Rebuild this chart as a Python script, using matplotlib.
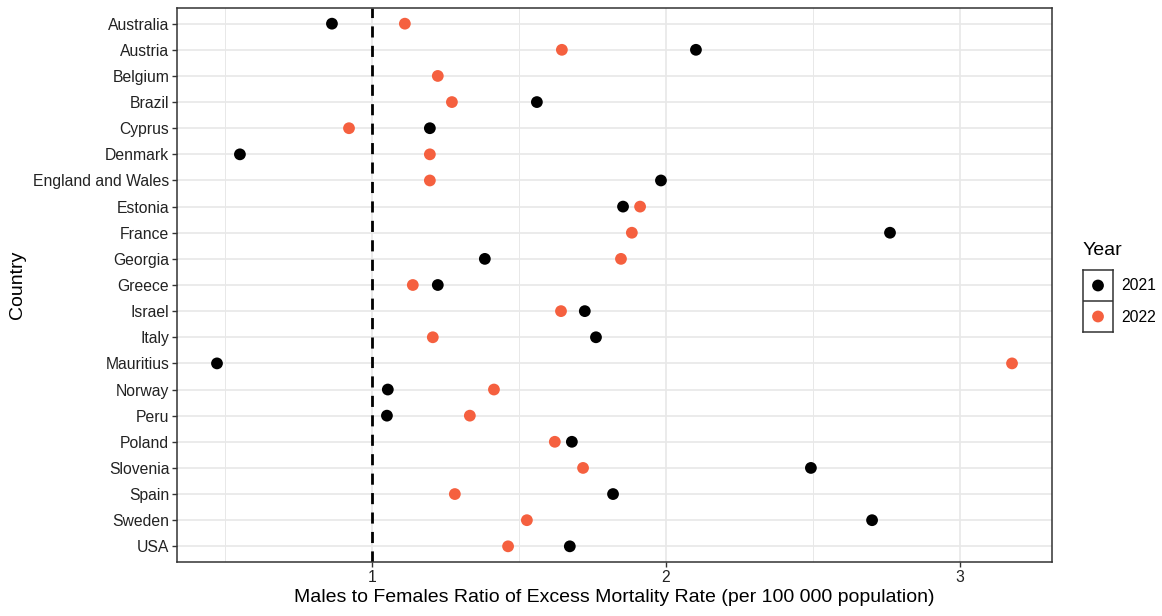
import matplotlib
matplotlib.use("Agg")
import matplotlib.pyplot as plt
import numpy as np

countries = ["Australia", "Austria", "Belgium", "Brazil", "Cyprus", "Denmark",
             "England and Wales", "Estonia", "France", "Georgia", "Greece",
             "Israel", "Italy", "Mauritius", "Norway", "Peru", "Poland",
             "Slovenia", "Spain", "Sweden", "USA"]
ratio_2021 = [0.864, 2.102, np.nan, 1.561, 1.197, 0.551, 1.983, 1.854, 2.762,
              1.384, 1.224, 1.724, 1.762, 0.473, 1.054, 1.051, 1.680, 2.493,
              1.820, 2.701, 1.673]
ratio_2022 = [1.112, 1.646, 1.224, 1.272, 0.922, 1.197, 1.197, 1.912, 1.884,
              1.847, 1.139, 1.643, 1.207, 3.177, 1.415, 1.333, 1.622, 1.718,
              1.282, 1.527, 1.463]
years = ["2021", "2022"]
colors = ["#000000", "#F5603F"]

plt.rcParams['font.family'] = ['Liberation Sans', 'DejaVu Sans']
W, H = 1162, 616
fig = plt.figure(figsize=(W / 100, H / 100), dpi=100)
ax = fig.add_axes([177 / W, 1 - 562 / H, (1052 - 177) / W, (562 - 8) / H])

n = len(countries)
ypos = np.arange(n)[::-1]
ax.set_xlim(0.337, 3.313)
ax.set_ylim(-0.6, n - 1 + 0.6)

ax.set_xticks([1, 2, 3])
ax.set_xticks([0.5, 1.5, 2.5], minor=True)
ax.set_yticks(ypos)
ax.set_yticklabels(countries)
ax.grid(which='major', color='#E8E8E8', lw=1.2, zorder=0)
ax.grid(which='minor', axis='x', color='#E8E8E8', lw=0.7, zorder=0)
ax.tick_params(which='minor', length=0)
ax.tick_params(which='major', length=3.5, width=1, color='#333333',
               labelsize=11.3, labelcolor='#222222', pad=2)
for s in ax.spines.values():
    s.set_color('#333333')
    s.set_linewidth(1.1)
ax.set_axisbelow(True)

ax.axvline(1, color='black', lw=2, ls=(0, (4, 3)), zorder=2)
for vals, c in zip([ratio_2021, ratio_2022], colors):
    ax.scatter(vals, ypos, s=72, color=c, edgecolors='none', zorder=3)

ax.set_xlabel("Males to Females Ratio of Excess Mortality Rate (per 100 000 population)",
              fontsize=14, labelpad=3)
ax.set_ylabel("Country", fontsize=14, labelpad=5)

# legend
fig.text(1083 / W, 1 - 250 / H, "Year", fontsize=14, va='center', ha='left')
lax = fig.add_axes([1083 / W, 1 - 332 / H, 30 / W, 62 / H])
lax.set_xlim(0, 1)
lax.set_ylim(0, 2)
lax.set_xticks([])
lax.set_yticks([])
lax.axhline(1, color='#333333', lw=1.1)
for s in lax.spines.values():
    s.set_color('#333333')
    s.set_linewidth(1.1)
for i, (yr, c) in enumerate(zip(years, colors)):
    yy = 1.5 - i
    lax.scatter([0.5], [yy], s=72, color=c, edgecolors='none')
    fig.text(1121 / W, 1 - (286 + 31 * i) / H, yr, fontsize=11.3, va='center', ha='left')

fig.savefig("out.png", dpi=100)
